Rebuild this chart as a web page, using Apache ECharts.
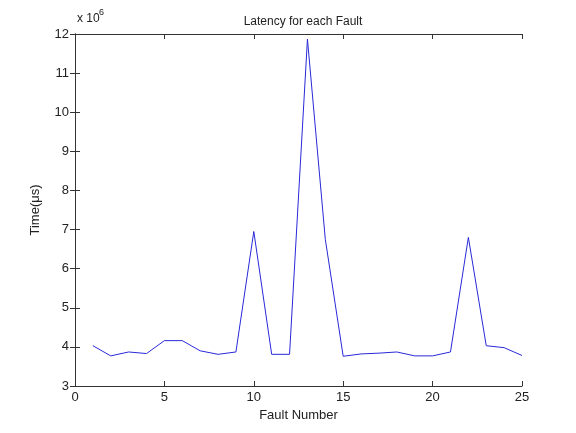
<!DOCTYPE html>
<html><head><meta charset="utf-8">
<script src="https://cdn.jsdelivr.net/npm/echarts@6/dist/echarts.min.js"></script>
<style>html,body{margin:0;padding:0;background:#fff}#c{width:576px;height:433px}</style>
</head><body><div id="c"></div>
<script>
const faultNumbers = [1,2,3,4,5,6,7,8,9,10,11,12,13,14,15,16,17,18,19,20,21,22,23,24,25];
const latency = [4.03,3.77,3.87,3.83,4.16,4.16,3.90,3.81,3.87,6.95,3.81,3.81,11.87,6.75,3.76,3.82,3.84,3.87,3.77,3.77,3.87,6.80,4.03,3.98,3.78];
const xTicks = [0,5,10,15,20,25];
const yTicks = [3,4,5,6,7,8,9,10,11,12];
const chart = echarts.init(document.getElementById('c'));
const font = 'Liberation Sans, Arial, sans-serif';
const axisCommon = {
  axisLine:{show:true,lineStyle:{color:'#333',width:1}},
  axisTick:{show:true,inside:true,length:5,lineStyle:{color:'#333'}},
  splitLine:{show:false}
};
chart.setOption({
  animation:false,
  title:{text:'Latency for each Fault',left:298,top:11,textAlign:'center',
    textStyle:{fontFamily:font,fontSize:12,fontWeight:'normal',color:'#222'}},
  grid:{left:75,right:54,top:34,bottom:47},
  graphic:[{type:'text',left:77,top:13,style:{text:'x 10',font:'12px '+font,fill:'#222'}},
           {type:'text',left:99,top:8,style:{text:'6',font:'9px '+font,fill:'#222'}}],
  xAxis:[
    Object.assign({type:'value',min:xTicks[0],max:xTicks[xTicks.length-1],interval:5,position:'bottom',
      name:'Fault Number',nameLocation:'middle',nameGap:22,
      nameTextStyle:{fontFamily:font,fontSize:13,color:'#222'},
      axisLabel:{fontFamily:font,fontSize:13,color:'#222',margin:5}},axisCommon),
    Object.assign({type:'value',min:0,max:25,interval:5,position:'top',axisLabel:{show:false}},axisCommon)
  ],
  yAxis:[
    Object.assign({type:'value',min:yTicks[0],max:yTicks[yTicks.length-1],interval:1,position:'left',
      name:'Time(\u03bcs)',nameLocation:'middle',nameGap:33,
      nameTextStyle:{fontFamily:font,fontSize:13,color:'#222'},
      axisLabel:{fontFamily:font,fontSize:13,color:'#222',margin:6}},axisCommon),
    Object.assign({type:'value',min:3,max:12,interval:1,position:'right',axisLabel:{show:false}},axisCommon)
  ],
  series:[{type:'line',data:faultNumbers.map((x,i)=>[x,latency[i]]),symbol:'none',
    lineStyle:{color:'#2828d8',width:1}}]
});
</script></body></html>
